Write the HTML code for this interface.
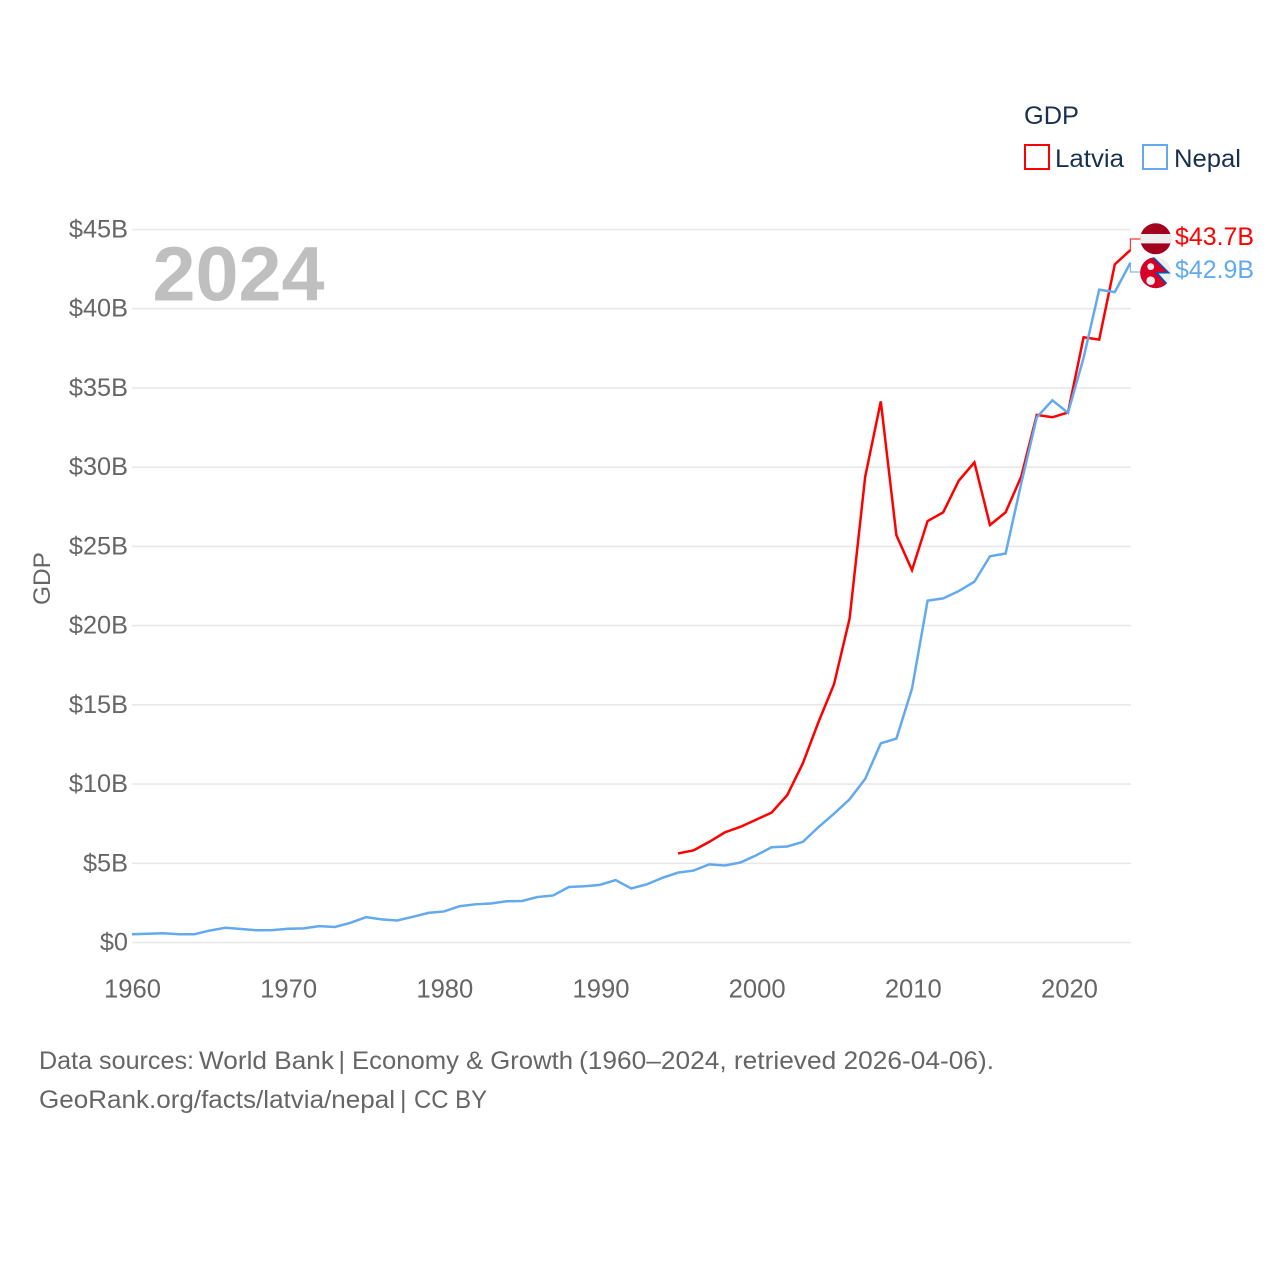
<!DOCTYPE html>
<html lang="en">
<head>
<meta charset="utf-8">
<title>GDP: Latvia vs Nepal</title>
<style>
html,body{margin:0;padding:0;background:#fff;}
svg{display:block;font-family:"Liberation Sans",Arial,sans-serif;}
</style>
</head>
<body>
<svg id="chart" xmlns="http://www.w3.org/2000/svg" width="1280" height="1280" viewBox="0 0 1280 1280">
  <defs>
    <clipPath id="clip-latvia"><circle cx="1155.7" cy="238.8" r="15.5"/></clipPath>
    <clipPath id="clip-nepal"><circle cx="1155.7" cy="272.7" r="15.5"/></clipPath>
  </defs>
  <rect x="0" y="0" width="1280" height="1280" fill="#ffffff"/>
  <g id="grid"></g>
  <g id="yticks"></g>
  <g id="xticks"></g>
  <text x="152.5" y="300.5" font-size="77" font-weight="700" fill="#bfbfbf" textLength="172" lengthAdjust="spacingAndGlyphs">2024</text>
  <text transform="translate(50,578.5) rotate(-90)" text-anchor="middle" font-size="24" fill="#666666" textLength="53" lengthAdjust="spacingAndGlyphs">GDP</text>
  <g id="series"></g>
  <g id="end-labels"></g>
  <g clip-path="url(#clip-latvia)">
    <rect x="1140" y="223" width="32" height="32" fill="#a2001d"/>
    <rect x="1140" y="234" width="32" height="9.4" fill="#eeeeee"/>
  </g>
  <g clip-path="url(#clip-nepal)">
    <rect x="1140" y="257" width="32" height="32" fill="#eeeeee"/>
    <polygon points="1140,256 1153,256 1170.5,273.5 1158.5,273.5 1171.5,288 1140,289" fill="#0052b4"/>
    <polygon points="1140,256 1151,256.5 1167,272 1155,272 1168,287 1140,289" fill="#d80027"/>
    <circle cx="1150.7" cy="266.7" r="3.4" fill="#eeeeee"/>
    <circle cx="1150.7" cy="280.7" r="4.3" fill="#eeeeee"/>
  </g>
  <g>
    <text x="1024" y="124" font-size="25" fill="#1a3050" textLength="55" lengthAdjust="spacingAndGlyphs">GDP</text>
    <rect x="1025" y="145" width="24" height="24" fill="none" stroke="#ff0000" stroke-width="2"/>
    <text x="1055" y="167" font-size="25" fill="#1a3050" textLength="69" lengthAdjust="spacingAndGlyphs">Latvia</text>
    <rect x="1143" y="145" width="24" height="24" fill="none" stroke="#63a9ee" stroke-width="2"/>
    <text x="1174" y="167" font-size="25" fill="#1a3050" textLength="67" lengthAdjust="spacingAndGlyphs">Nepal</text>
  </g>
  <text y="1069" font-size="25" fill="#666666"><tspan x="39" textLength="155" lengthAdjust="spacingAndGlyphs">Data sources:</tspan> <tspan x="199" textLength="135" lengthAdjust="spacingAndGlyphs">World Bank</tspan> <tspan x="338.5">|</tspan> <tspan x="352" textLength="221" lengthAdjust="spacingAndGlyphs">Economy &amp; Growth</tspan> <tspan x="579" textLength="415" lengthAdjust="spacingAndGlyphs">(1960–2024, retrieved 2026-04-06).</tspan></text>
  <text y="1108" font-size="25" fill="#666666"><tspan x="39" textLength="356" lengthAdjust="spacingAndGlyphs">GeoRank.org/facts/latvia/nepal</tspan> <tspan x="400">|</tspan> <tspan x="414" textLength="73" lengthAdjust="spacingAndGlyphs">CC BY</tspan></text>
</svg>
<script>
const startYear = 1960;
const endYear = 2024;
const xTickYears = [1960, 1970, 1980, 1990, 2000, 2010, 2020];
const yTickValues = [0, 5, 10, 15, 20, 25, 30, 35, 40, 45];
const nepalStartYear = 1960;
const nepalValues = [0.52,0.55,0.58,0.52,0.52,0.76,0.93,0.85,0.77,0.78,0.87,0.89,1.03,0.98,1.24,1.60,1.46,1.39,1.62,1.87,1.96,2.29,2.41,2.46,2.60,2.62,2.87,2.97,3.50,3.55,3.64,3.94,3.41,3.67,4.08,4.41,4.54,4.93,4.86,5.05,5.50,6.01,6.06,6.35,7.28,8.13,9.04,10.33,12.57,12.87,16.02,21.58,21.72,22.18,22.77,24.38,24.55,28.97,33.15,34.22,33.43,36.90,41.20,41.05,42.90];
const latviaStartYear = 1995;
const latviaValues = [5.62,5.82,6.35,6.95,7.30,7.75,8.20,9.30,11.30,13.90,16.30,20.45,29.40,34.15,25.70,23.50,26.60,27.15,29.15,30.30,26.35,27.15,29.40,33.30,33.15,33.45,38.20,38.05,42.80,43.70];

const svgNS = 'http://www.w3.org/2000/svg';
const xScale = function (year) { return 132 + (year - startYear) * 15.6; };
const yScale = function (v) { return 942.5 - v * (942.5 - 229.5) / 45; };
const moneyLabel = function (v) { return v === 0 ? '$0' : '$' + v + 'B'; };
const make = function (tag, parent, attrs) {
  const el = document.createElementNS(svgNS, tag);
  Object.keys(attrs).forEach(function (k) { el.setAttribute(k, attrs[k]); });
  parent.appendChild(el);
  return el;
};

const grid = document.getElementById('grid');
const yticks = document.getElementById('yticks');
const xticks = document.getElementById('xticks');
const series = document.getElementById('series');
const endLabels = document.getElementById('end-labels');

yTickValues.forEach(function (v) {
  const line = make('line', grid, { x1: 132, x2: 1131, y1: yScale(v), y2: yScale(v), stroke: '#e8e8e8', 'stroke-width': 1.6 });
  
  
  const label = make('text', yticks, { x: 128, y: yScale(v) + 8, 'text-anchor': 'end', 'font-size': 25.3, fill: '#666666' });
  
  
  label.textContent = moneyLabel(v);
});

xTickYears.forEach(function (yr) {
  const label = make('text', xticks, { x: xScale(yr) + (yr - startYear) * 0.016 + 0.5, y: 997.5, 'text-anchor': 'middle', 'font-size': 25.6, fill: '#666666' });
  
  
  label.textContent = String(yr);
});

const drawSeries = function (values, firstYear, color, flagY, labelY, key) {
  const pts = values.map(function (v, i) { return xScale(firstYear + i).toFixed(2) + ',' + yScale(v).toFixed(2); });
  const path = make('polyline', series, { points: pts.join(' '), fill: 'none', stroke: color, 'stroke-width': 2.5, 'stroke-linejoin': 'miter' });
  
  
  const last = values[values.length - 1];
  const xEnd = xScale(endYear);
  const connector = make('polyline', endLabels, { points: xEnd + ',' + yScale(last) + ' ' + xEnd + ',' + flagY + ' 1141,' + flagY, fill: 'none', stroke: color, 'stroke-width': 1.2, opacity: 0.8 });
  
  
  const label = make('text', endLabels, { x: 1175, y: labelY, 'font-size': 25, fill: color, textLength: 79, lengthAdjust: 'spacingAndGlyphs' });
  
  
  label.textContent = '$' + last.toFixed(1) + 'B';
};

drawSeries(latviaValues, latviaStartYear, '#ff0000', 239, 245, 'latvia');
drawSeries(nepalValues, nepalStartYear, '#63a9ee', 272, 278, 'nepal');
</script>
</body>
</html>
